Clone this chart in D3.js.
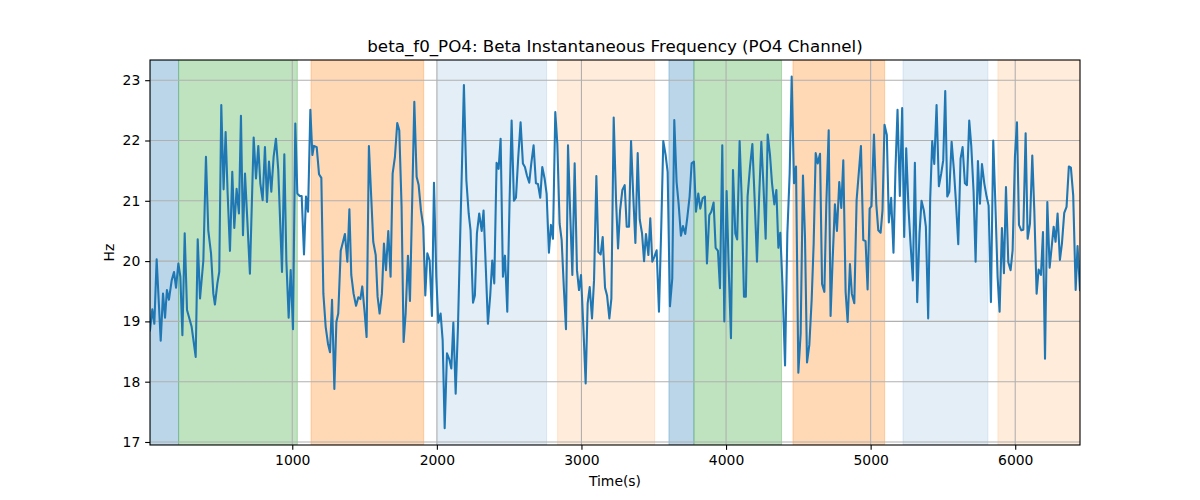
<!DOCTYPE html>
<html><head><meta charset="utf-8">
<script src="https://cdn.jsdelivr.net/npm/d3@7"></script>
<style>body{margin:0;background:#fff}svg text{font-family:"DejaVu Sans",sans-serif}</style>
</head><body><svg id="c" width="1200" height="500"></svg>
<script>
const times = [16,32,46,62,90,106,120,133,147,166,182,196,212,226,240,256,272,304,332,346,362,385,403,419,438,454,465,482,495,509,525,539,553,569,585,599,615,631,645,659,673,689,707,
733,749,765,779,795,811,825,839,855,871,887,903,929,945,959,975,989,1005,1021,1035,1051,1065,1081,1095,1109,1125,1139,1150,1169,1185,1201,1215,1231,1247,1261,1275,1291,1305,1318,1335,1351,1364,1381,1395,
1408,1424,1441,1457,1471,1484,1500,1514,1530,1547,1560,1577,1590,1604,1620,1634,1648,1664,1680,1694,1710,1726,1740,1756,1770,1784,1800,1814,1830,1844,1860,1874,1890,1906,1920,1934,1950,1966,1980,1996,2010,2026,2040,2054,2070,2086,
2100,2114,2130,2146,2160,2174,2187,2204,2220,2233,2250,2263,2277,2293,2310,2323,2340,2353,2369,2383,2397,2413,2427,2441,2457,2471,2487,2503,2517,2533,2547,2563,2579,2595,2609,2623,2639,2653,2669,2685,2699,2715,2729,2745,2759,2775,
2789,2803,2819,2833,2849,2863,2879,2893,2907,2923,2937,2953,2969,2983,2997,3013,3029,3043,3057,3073,3087,3103,3117,3133,3147,3163,3177,3193,3207,3223,3239,3253,3267,3283,3299,3313,3329,3343,3357,3373,3389,3403,3419,3433,3446,3463,
3476,3490,3504,3520,3536,3552,3566,3582,3596,3612,3628,3642,3658,3672,3688,3702,3718,3732,3748,3762,3778,3792,3808,3822,3838,3854,3868,3884,3898,3914,3928,3944,3958,3974,3988,4004,4018,4034,4048,4064,4077,4094,4107,4124,4137,
4149,4166,4182,4198,4214,4228,4244,4258,4274,4288,4304,4318,4334,4348,4362,4375,4391,4408,4424,4440,4454,4470,4484,4500,4516,4532,4546,4560,4576,4592,4606,4620,4634,4650,4664,4680,4693,4710,4723,4737,4753,4767,4783,4797,4811,4827,4841,4857,
4870,4887,4903,4933,4949,4965,4979,4993,5006,5023,5039,5053,5069,5082,5096,5112,5126,5142,5158,5172,5186,5202,5218,5232,5246,5262,5276,5292,5306,5322,5338,5352,5368,5382,5398,5412,5426,5440,5456,5472,5488,5502,5516,
5530,5544,5560,5576,5590,5606,5622,5636,5652,5666,5682,5696,5712,5726,5742,5756,5770,5786,5802,5816,5832,5848,5862,5878,5892,5908,5922,5936,5952,5968,5982,5998,6012,6026,6042,6056,6072,6086,6102,6118,6132,6148,6162,6178,6192,6206,6222,
6238,6252,6266,6279,6293,6309,6323,6339,6355,6371,6385,6401,6418,6431,6448];
const values = [18.85,19.20,18.96,20.03,18.68,19.46,19.06,19.52,19.36,19.68,19.82,19.56,19.96,19.74,18.77,20.46,19.19,18.91,18.41,20.36,19.38,20.01,21.73,20.51,20.13,19.46,19.28,19.63,19.82,22.59,21.19,22.14,21.12,20.17,21.48,20.55,21.20,20.79,22.41,20.43,21.45,20.68,19.79,
22.05,21.37,21.91,21.29,21.01,21.89,20.98,21.65,21.15,21.73,22.03,21.51,19.82,21.77,20.01,19.06,19.85,18.87,22.28,21.12,21.08,21.08,20.11,21.07,20.82,22.51,21.76,21.91,21.89,21.44,21.38,19.46,18.91,18.63,18.49,19.36,17.88,18.99,19.13,20.17,20.32,20.45,19.99,20.86,
19.77,19.46,19.26,19.40,19.37,19.58,19.16,18.74,21.91,21.01,20.32,20.10,19.41,19.13,19.46,20.29,19.85,20.50,19.74,21.45,21.73,22.29,22.17,20.90,18.66,19.13,20.09,19.34,21.07,22.64,21.40,21.26,20.84,20.57,19.43,20.13,20.01,19.09,21.30,19.74,18.98,19.13,18.69,17.23,18.47,18.37,
18.22,18.98,17.80,18.91,20.29,21.62,22.92,21.34,20.79,20.51,19.31,19.43,20.46,20.79,20.50,20.84,19.79,18.96,19.43,20.01,19.63,21.63,21.53,22.03,19.74,20.09,19.16,21.01,22.33,21.00,21.05,21.73,22.30,21.62,21.56,21.42,21.30,21.62,21.92,21.29,21.28,21.05,21.56,21.37,21.12,20.14,
20.60,20.37,22.47,21.95,20.62,20.35,19.52,18.87,21.92,20.73,19.77,21.62,19.85,19.52,19.77,18.91,17.97,19.30,19.57,19.05,19.68,21.41,20.15,20.11,20.40,19.56,19.43,19.05,19.38,22.38,21.02,20.21,20.84,21.18,21.26,20.57,20.57,21.99,21.15,20.30,21.79,20.69,20.46,20.00,20.45,20.10,
20.71,19.99,20.07,20.18,19.16,20.57,21.99,21.76,21.48,19.25,19.71,22.34,21.31,20.95,20.42,20.58,20.45,20.72,21.07,21.62,21.65,20.82,21.12,20.87,21.04,21.07,19.96,20.76,20.82,20.97,20.22,20.17,19.55,21.92,19.00,21.16,19.92,18.72,21.51,20.46,20.36,21.99,21.12,19.41,19.41,
21.07,21.57,21.94,21.01,19.99,21.01,21.98,21.29,20.37,22.10,21.76,21.29,20.94,21.18,20.22,20.47,19.57,18.27,20.46,21.45,23.06,21.29,21.57,18.15,18.80,21.42,20.40,18.32,18.61,19.35,20.29,21.79,21.62,21.78,19.62,19.49,20.90,22.17,19.09,20.01,20.94,20.50,21.31,20.88,21.67,19.49,18.99,19.95,
19.46,19.30,21.01,21.91,20.35,20.33,19.53,20.87,20.91,22.10,20.95,20.51,20.47,20.84,22.26,22.09,20.64,21.05,20.14,21.54,22.51,21.08,22.54,20.40,21.87,20.87,20.29,19.68,21.63,19.32,20.46,21.00,20.84,20.57,19.05,21.04,21.99,21.61,22.59,21.24,21.45,21.67,22.82,
21.07,21.15,21.98,21.51,20.98,20.28,21.70,21.89,21.29,21.26,22.33,21.91,21.15,19.99,21.66,20.95,21.61,21.29,21.07,20.92,19.32,22.00,21.01,19.74,19.16,20.55,19.80,21.23,19.98,19.85,20.18,21.73,22.30,20.60,20.51,20.52,22.12,20.37,20.62,21.75,20.84,19.46,19.86,19.77,20.48,18.38,20.98,
19.89,20.23,20.57,20.32,20.79,20.02,20.29,20.80,20.90,21.57,21.55,21.09,19.52,20.25,19.52];

const bandStarts = [16, 214, 1130, 2005, 2835, 3605, 3778, 4463, 5224, 5880];
const bandEnds   = [214, 1035, 1909, 2759, 3506, 3778, 4384, 5097, 5811, 6448];
const bandKinds  = ["blueDark","green","orangeDark","blueLight","orangeLight","blueDark","green","orangeDark","blueLight","orangeLight"];

const xTicks = [1000,2000,3000,4000,5000,6000];
const yTicks = [17,18,19,20,21,22,23];
const xDomain = [16, 6448];
const yDomain = [16.95, 23.335];

const titleText = "beta_f0_PO4: Beta Instantaneous Frequency (PO4 Channel)";
const xLabel = "Time(s)";
const yLabel = "Hz";

const kindStyle = {
  blueDark:   {c:"#1f77b4", a:0.3},
  green:      {c:"#2ca02c", a:0.3},
  orangeDark: {c:"#ff7f0e", a:0.3},
  blueLight:  {c:"#1f77b4", a:0.12},
  orangeLight:{c:"#ff7f0e", a:0.15}
};

const L=150, R=1080, T=60, B=445;
const svg = d3.select("#c");
const x = d3.scaleLinear().domain(xDomain).range([L,R]);
const y = d3.scaleLinear().domain(yDomain).range([B,T]);

svg.append("defs").append("clipPath").attr("id","clip")
  .append("rect").attr("x",L).attr("y",T).attr("width",R-L).attr("height",B-T);

const bands = d3.range(bandStarts.length).map(i=>({s:bandStarts[i],e:bandEnds[i],k:bandKinds[i]}));
svg.append("g").attr("clip-path","url(#clip)").selectAll("rect").data(bands).join("rect")
  .attr("x",d=>x(d.s)).attr("width",d=>x(d.e)-x(d.s))
  .attr("y",T).attr("height",B-T)
  .attr("fill",d=>kindStyle[d.k].c).attr("fill-opacity",d=>kindStyle[d.k].a)
  .attr("stroke",d=>kindStyle[d.k].c).attr("stroke-opacity",d=>kindStyle[d.k].a).attr("stroke-width",1);

const grid = svg.append("g");
grid.selectAll("line.gx").data(xTicks).join("line")
  .attr("x1",d=>x(d)).attr("x2",d=>x(d)).attr("y1",T).attr("y2",B)
  .attr("stroke","#b0b0b0").attr("stroke-width",1.1);
grid.selectAll("line.gy").data(yTicks).join("line")
  .attr("y1",d=>y(d)).attr("y2",d=>y(d)).attr("x1",L).attr("x2",R)
  .attr("stroke","#b0b0b0").attr("stroke-width",1.1);

const pts = times.map((t,i)=>[t,values[i]]);
svg.append("path").datum(pts).attr("clip-path","url(#clip)")
  .attr("fill","none").attr("stroke","#1f77b4").attr("stroke-width",2.08)
  .attr("stroke-linejoin","round").attr("stroke-linecap","square")
  .attr("d",d3.line().x(d=>x(d[0])).y(d=>y(d[1])));

svg.append("rect").attr("x",L).attr("y",T).attr("width",R-L).attr("height",B-T)
  .attr("fill","none").attr("stroke","#000").attr("stroke-width",1.1);

const xa = svg.append("g").attr("transform",`translate(0,${B})`)
  .call(d3.axisBottom(x).tickValues(xTicks).tickSize(4.86).tickPadding(4.86).tickFormat(d3.format("d")));
const ya = svg.append("g").attr("transform",`translate(${L},0)`)
  .call(d3.axisLeft(y).tickValues(yTicks).tickSize(4.86).tickPadding(4.86).tickFormat(d3.format("d")));
[xa,ya].forEach(a=>{
  a.select(".domain").remove();
  a.selectAll(".tick line").attr("stroke","#000").attr("stroke-width",1.1);
  a.selectAll(".tick text").attr("fill","#000").style("font-size","13.9px").style("font-family","DejaVu Sans");
});

svg.append("text").attr("x",(L+R)/2).attr("y",52).attr("text-anchor","middle")
  .style("font-size","16.7px").text(titleText);
svg.append("text").attr("x",(L+R)/2).attr("y",486).attr("text-anchor","middle")
  .style("font-size","13.9px").text(xLabel);
svg.append("text").attr("transform",`translate(114,${(T+B)/2}) rotate(-90)`).attr("text-anchor","middle")
  .style("font-size","13.9px").text(yLabel);
</script></body></html>
